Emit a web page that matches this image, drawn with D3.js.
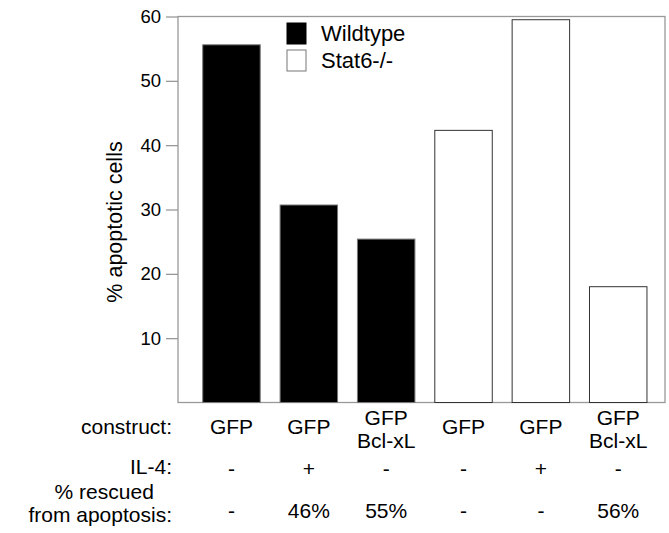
<!DOCTYPE html>
<html>
<head>
<meta charset="utf-8">
<script src="https://cdn.jsdelivr.net/npm/d3@7"></script>
<style>
  body { margin: 0; background: #fff; }
  svg { display: block; font-family: "Liberation Sans", Arial, Helvetica, sans-serif; }
</style>
</head>
<body>
<script>
(function() {
  'use strict';

  // data
  var groups = ['Wildtype', 'Wildtype', 'Wildtype', 'Stat6-/-', 'Stat6-/-', 'Stat6-/-'];
  var values = [55.6, 30.7, 25.4, 42.3, 59.5, 18.0];
  var constructs = [['GFP'], ['GFP'], ['GFP', 'Bcl-xL'], ['GFP'], ['GFP'], ['GFP', 'Bcl-xL']];
  var il4 = ['-', '+', '-', '-', '+', '-'];
  var rescued = ['-', '46%', '55%', '-', '-', '56%'];
  var yTicks = [10, 20, 30, 40, 50, 60];
  var legendItems = ['Wildtype', 'Stat6-/-'];

  var w = 669;
  var h = 533;
  var left = 178, right = 665, top = 16.5, bottom = 402.5;

  var svg = d3.select('body')
    .append('svg')
    .attr('width', w)
    .attr('height', h);

  var xScale = d3.scaleBand()
    .domain(d3.range(values.length))
    .range([192.8, 656.9])
    .paddingInner(0.257)
    .paddingOuter(0.1285);

  var yScale = d3.scaleLinear()
    .domain([0, 60])
    .range([bottom, top]);

  var fill = d3.scaleOrdinal()
    .domain(legendItems)
    .range(['#000', '#fff']);

  var edge = d3.scaleOrdinal()
    .domain(legendItems)
    .range(['#777', '#333']);

  // frame
  svg.append('rect')
    .attr('x', left)
    .attr('y', top)
    .attr('width', right - left)
    .attr('height', bottom - top)
    .attr('fill', 'none')
    .attr('stroke', '#999')
    .attr('stroke-width', 1.3);

  // y axis
  var yAxis = d3.axisLeft(yScale)
    .tickValues(yTicks)
    .tickSize(12)
    .tickPadding(5);

  var gy = svg.append('g')
    .attr('transform', 'translate(' + left + ',0)')
    .call(yAxis);
  gy.select('.domain').remove();
  gy.selectAll('line').attr('stroke', '#999').attr('stroke-width', 1.3);
  gy.selectAll('text')
    .attr('font-size', '18.5px')
    .attr('font-family', '"Liberation Sans", Arial, sans-serif')
    .attr('fill', '#000');

  svg.append('text')
    .attr('transform', 'translate(121.5,222) rotate(-90)')
    .attr('text-anchor', 'middle')
    .attr('font-size', '21.5px')
    .text('% apoptotic cells');

  // bars
  svg.selectAll('rect.bar')
    .data(values)
    .enter()
    .append('rect')
    .attr('class', 'bar')
    .attr('x', function(d, i) { return xScale(i); })
    .attr('y', function(d) { return yScale(d); })
    .attr('width', xScale.bandwidth())
    .attr('height', function(d) { return yScale(0) - yScale(d); })
    .attr('fill', function(d, i) { return fill(groups[i]); })
    .attr('stroke', function(d, i) { return edge(groups[i]); })
    .attr('stroke-width', 1);

  // legend
  var legend = svg.selectAll('g.legend')
    .data(legendItems)
    .enter()
    .append('g')
    .attr('class', 'legend')
    .attr('transform', function(d, i) { return 'translate(287,' + (23 + i * 27) + ')'; });

  legend.append('rect')
    .attr('width', 19)
    .attr('height', 21)
    .attr('fill', function(d) { return fill(d); })
    .attr('stroke', function(d) { return d === 'Wildtype' ? '#000' : '#777'; })
    .attr('stroke-width', 1);

  legend.append('text')
    .attr('x', 34)
    .attr('y', 17.5)
    .attr('font-size', '22px')
    .text(function(d) { return d; });

  // table under the chart
  var cx = function(i) { return xScale(i) + xScale.bandwidth() / 2; };
  var labelX = 172;
  var fs = '21px';

  svg.append('text')
    .attr('x', labelX).attr('y', 433.5)
    .attr('text-anchor', 'end')
    .attr('font-size', fs)
    .text('construct:');

  svg.selectAll('text.construct')
    .data(constructs)
    .enter()
    .append('text')
    .attr('class', 'construct')
    .attr('text-anchor', 'middle')
    .attr('font-size', fs)
    .attr('x', function(d, i) { return cx(i); })
    .attr('y', function(d) { return d.length > 1 ? 425 : 434; })
    .each(function(d, i) {
      var t = d3.select(this);
      d.forEach(function(line, j) {
        t.append('tspan')
          .attr('x', cx(i))
          .attr('dy', j === 0 ? 0 : 23)
          .text(line);
      });
    });

  svg.append('text')
    .attr('x', labelX).attr('y', 473.5)
    .attr('text-anchor', 'end')
    .attr('font-size', fs)
    .text('IL-4:');

  svg.selectAll('text.il4')
    .data(il4)
    .enter()
    .append('text')
    .attr('class', 'il4')
    .attr('text-anchor', 'middle')
    .attr('font-size', fs)
    .attr('x', function(d, i) { return cx(i); })
    .attr('y', 476)
    .text(function(d) { return d; });

  var fromLabel = svg.append('text')
    .attr('text-anchor', 'end')
    .attr('font-size', fs)
    .attr('y', 521.5)
    .attr('x', labelX)
    .text('from apoptosis:');

  var fromW = fromLabel.node().getComputedTextLength();

  svg.append('text')
    .attr('text-anchor', 'middle')
    .attr('font-size', fs)
    .attr('y', 499)
    .attr('x', labelX - fromW / 2 + 4)
    .text('% rescued');

  svg.selectAll('text.rescued')
    .data(rescued)
    .enter()
    .append('text')
    .attr('class', 'rescued')
    .attr('text-anchor', 'middle')
    .attr('font-size', fs)
    .attr('x', function(d, i) { return cx(i); })
    .attr('y', 518)
    .text(function(d) { return d; });
})();
</script>
</body>
</html>
